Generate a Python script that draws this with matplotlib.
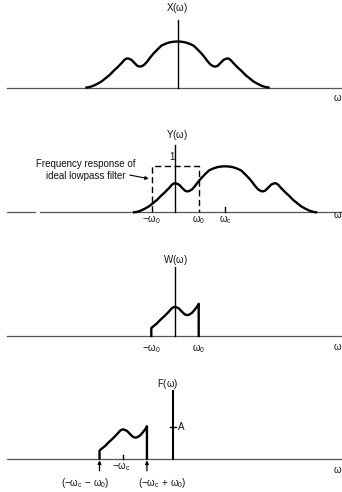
import numpy as np
import matplotlib
matplotlib.use("Agg")
import matplotlib.pyplot as plt

plt.rcParams['font.family'] = ['Liberation Sans', 'DejaVu Sans']
plt.rcParams['mathtext.fontset'] = 'custom'
plt.rcParams['mathtext.rm'] = 'Liberation Sans'
plt.rcParams['mathtext.it'] = 'Liberation Sans'
plt.rcParams['mathtext.bf'] = 'Liberation Sans:bold'
plt.rcParams['mathtext.default'] = 'rm'

# ---------------- data (omega in units of omega_0, magnitude: X peak = 1) ----
omega0 = 1.0
omegac = 2.1
# right half of the even spectrum X(omega)
x_w_half = np.array([0, 0.17, 0.34, 0.51, 0.68, 0.84, 1.01, 1.14, 1.27, 1.39,
                     1.52, 1.60, 1.69, 1.81, 1.94, 2.07, 2.15, 2.24, 2.36, 2.53,
                     2.70, 2.87, 3.04, 3.21, 3.38, 3.54, 3.71, 3.84])
x_mag_half = np.array([1.0, 0.995, 0.98, 0.95, 0.91, 0.83, 0.74, 0.66, 0.57, 0.50,
                       0.46, 0.455, 0.47, 0.53, 0.60, 0.63, 0.63, 0.60, 0.53, 0.44,
                       0.36, 0.27, 0.20, 0.13, 0.08, 0.04, 0.01, 0.0])
filter_gain = 1.0
w_edge_values = [0.17, 0.70]      # W at -omega0 and +omega0
axis_heights = [1.47, 1.46, 1.50, 1.47]
A_level = 0.68

X_w = np.concatenate([-x_w_half[::-1], x_w_half[1:]])
X_mag = np.concatenate([x_mag_half[::-1], x_mag_half[1:]])
Y_w = X_w + omegac
Y_mag = X_mag
inside = (Y_w > -omega0) & (Y_w < omega0)
W_w = np.concatenate([[-omega0, -omega0], Y_w[inside], [omega0, omega0]])
W_mag = np.concatenate([[0, w_edge_values[0]], Y_mag[inside], [w_edge_values[1], 0]])
F_w = W_w - omegac
F_mag = W_mag

# ---------------- layout ------------------------------------------------------
WPX, HPX = 342, 492
SX, SY = 23.7, 46.0
fig = plt.figure(figsize=(WPX / 100, HPX / 100), dpi=100)

def make_ax(cx, by):
    ax = fig.add_axes([0, 0, 1, 1])
    ax.set_xlim(-cx / SX, (WPX - cx) / SX)
    ax.set_ylim(-(HPX - by) / SY, by / SY)
    ax.axis('off')
    ax.patch.set_alpha(0)
    return ax

TXT = dict(fontsize=7, color='#111111')
BASE = dict(color='#555555', lw=0.9)
CURVE = dict(color='black', lw=1.7, solid_joinstyle='round')
AX = dict(color='black', lw=1.0)

def baseline(ax, start=7, gap=None):
    x0 = start / SX + ax.get_xlim()[0]
    x1 = ax.get_xlim()[1]
    if gap is None:
        ax.plot([x0, x1], [0, 0], **BASE)
    else:
        ax.plot([x0, gap[0]], [0, 0], **BASE)
        ax.plot([gap[1], x1], [0, 0], **BASE)

def omega_label(ax, cx, y):
    ax.text((333 - cx) / SX, y, r'$\omega$', ha='left', va='center', **TXT)

# Panel 1: X(omega)
ax1 = make_ax(177.5, 87.5)
baseline(ax1)
ax1.plot([0, 0], [0, axis_heights[0]], **AX)
ax1.plot(X_w, X_mag, **CURVE)
ax1.text(0, 1.72, r'X($\omega$)', ha='center', va='center', **TXT)
omega_label(ax1, 177.5, -0.22)

# Panel 2: Y(omega)
ax2 = make_ax(175.3, 212.3)
baseline(ax2, gap=(-5.92, -5.70))
ax2.plot([0, 0], [0, axis_heights[1]], **AX)
ax2.plot(Y_w, Y_mag, **CURVE)
ax2.plot([-omega0, -omega0, omega0, omega0], [0, filter_gain, filter_gain, 0],
         color='black', lw=1.0, dashes=(4.5, 2.5))
ax2.plot([omegac, omegac], [0, 0.115], **AX)
ax2.text(0.07, 1.68, r'Y($\omega$)', ha='center', va='center', **TXT)
ax2.text(-0.15, 1.21, '1', ha='center', va='center', **TXT)
ax2.text(-omega0, -0.16, r'$-\omega_0$', ha='center', va='center', **TXT)
ax2.text(omega0, -0.16, r'$\omega_0$', ha='center', va='center', **TXT)
ax2.text(omegac, -0.16, r'$\omega_c$', ha='center', va='center', **TXT)
omega_label(ax2, 175.3, -0.04)
ax2.text(-3.77, 0.92, 'Frequency response of\nideal lowpass filter',
         ha='center', va='center', linespacing=1.2, **TXT)
ax2.annotate('', xy=(-1.12, 0.73), xytext=(-1.92, 0.81),
             arrowprops=dict(arrowstyle='-|>', color='black', lw=0.8,
                             mutation_scale=5, shrinkA=0, shrinkB=0))

# Panel 3: W(omega)
ax3 = make_ax(175.0, 336.0)
baseline(ax3)
ax3.plot([0, 0], [0, axis_heights[2]], **AX)
ax3.plot(W_w, W_mag, **CURVE)
ax3.text(0, 1.65, r'W($\omega$)', ha='center', va='center', **TXT)
ax3.text(-omega0, -0.28, r'$-\omega_0$', ha='center', va='center', **TXT)
ax3.text(omega0, -0.28, r'$\omega_0$', ha='center', va='center', **TXT)
omega_label(ax3, 175.0, -0.23)

# Panel 4: F(omega)
ax4 = make_ax(173.0, 458.5)
baseline(ax4)
ax4.plot([0, 0], [0, axis_heights[3]], color='black', lw=1.5)
ax4.plot([-0.13, 0.13], [A_level, A_level], **AX)
ax4.plot(F_w, F_mag, **CURVE)
ax4.plot([-omegac, -omegac], [0, 0.08], **AX)
ax4.text(0.2, A_level, 'A', ha='left', va='center', **TXT)
ax4.text(-0.23, 1.62, r'F($\omega$)', ha='center', va='center', **TXT)
ax4.text(-omegac - 0.07, -0.17, r'$-\omega_c$', ha='center', va='center', **TXT)
omega_label(ax4, 173.0, -0.23)
for xe in (-omegac - omega0, -omegac + omega0):
    ax4.annotate('', xy=(xe, -0.04), xytext=(xe, -0.27),
                 arrowprops=dict(arrowstyle='-|>', color='black', lw=0.9,
                                 mutation_scale=5, shrinkA=0, shrinkB=0))
ax4.text(-3.71, -0.53, r'$(-\omega_c\,-\,\omega_0)$', ha='center', va='center', **TXT)
ax4.text(-0.46, -0.53, r'$(-\omega_c\,+\,\omega_0)$', ha='center', va='center', **TXT)

fig.savefig('out.png', dpi=100, facecolor='white')
